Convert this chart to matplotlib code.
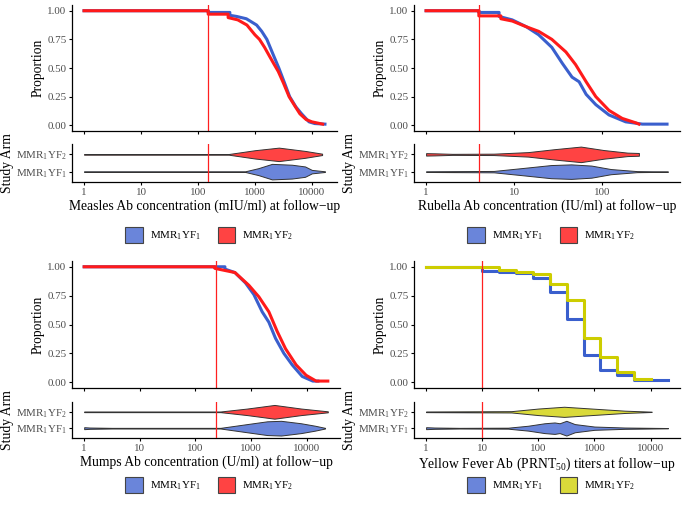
"""Cumulative antibody distributions with violin strips, four vaccine antigens."""

import matplotlib.pyplot as plt
import numpy as np
from matplotlib.patches import Patch

plt.rcParams.update(
    {
        "font.family": "Liberation Serif",
        "mathtext.fontset": "custom",
        "mathtext.rm": "Liberation Serif",
        "mathtext.it": "Liberation Serif:italic",
        "figure.facecolor": "white",
        "savefig.facecolor": "white",
    }
)

BLUE_LINE = "#3A5FCD"
RED_LINE = "#FF1A1A"
YELLOW_LINE = "#CDCD00"
BLUE_FILL = "#6A85DA"
RED_FILL = "#FF4343"
YELLOW_FILL = "#DADA3A"
CUT_COLOR = "#FF2020"
ARMS = [r"MMR$_1$YF$_1$", r"MMR$_1$YF$_2$"]

# --- curves: log10(concentration) and proportion above it -------------------
measles_yf1_logx = [0, 2.18, 2.18, 2.56, 2.56, 2.68, 2.85, 3.03, 3.12, 3.21, 3.31, 3.42, 3.52,
                    3.61, 3.72, 3.82, 3.95, 4.05, 4.23]
measles_yf1_prop = [1.0, 1.0, 0.985, 0.985, 0.96, 0.95, 0.93, 0.875, 0.82, 0.75, 0.63, 0.50, 0.37,
                    0.25, 0.16, 0.10, 0.03, 0.015, 0.01]
measles_yf2_logx = [0, 2.18, 2.18, 2.53, 2.53, 2.70, 2.86, 3.00, 3.08, 3.17, 3.26, 3.34, 3.41,
                    3.50, 3.60, 3.70, 3.79, 3.90, 4.00, 4.19]
measles_yf2_prop = [1.0, 1.0, 0.97, 0.97, 0.94, 0.92, 0.875, 0.79, 0.75, 0.68, 0.60, 0.53, 0.47,
                    0.37, 0.25, 0.17, 0.10, 0.05, 0.03, 0.01]

rubella_yf1_logx = [0, 0.60, 0.60, 0.83, 0.83, 0.98, 1.14, 1.28, 1.43, 1.55, 1.66, 1.74, 1.82,
                    1.93, 2.08, 2.27, 2.46, 2.74]
rubella_yf1_prop = [1.0, 1.0, 0.985, 0.985, 0.95, 0.92, 0.86, 0.79, 0.68, 0.54, 0.42, 0.38, 0.27,
                    0.18, 0.09, 0.03, 0.01, 0.01]
rubella_yf2_logx = [0, 0.60, 0.60, 0.85, 0.85, 0.98, 1.14, 1.28, 1.43, 1.59, 1.70, 1.82, 1.93,
                    2.08, 2.23, 2.39, 2.42]
rubella_yf2_prop = [1.0, 1.0, 0.955, 0.955, 0.93, 0.91, 0.86, 0.82, 0.75, 0.64, 0.53, 0.38, 0.25,
                    0.13, 0.06, 0.02, 0.01]

mumps_yf1_logx = [0, 2.53, 2.53, 2.71, 2.90, 3.05, 3.20, 3.32, 3.44, 3.59, 3.74, 3.92, 4.11, 4.20]
mumps_yf1_prop = [1.0, 1.0, 0.98, 0.95, 0.86, 0.76, 0.61, 0.52, 0.38, 0.25, 0.15, 0.05, 0.01, 0.01]
mumps_yf2_logx = [0, 2.35, 2.35, 2.71, 2.96, 3.14, 3.32, 3.47, 3.62, 3.81, 3.99, 4.17, 4.38]
mumps_yf2_prop = [1.0, 1.0, 0.986, 0.95, 0.84, 0.74, 0.61, 0.44, 0.29, 0.15, 0.06, 0.01, 0.01]

yf_titers = [1, 10, 20, 40, 80, 160, 320, 640, 1280, 2560, 5120, 10240, 20480]
yf_yf1_prop = [1.0, 0.965, 0.955, 0.95, 0.905, 0.78, 0.545, 0.235, 0.11, 0.06, 0.015, 0.015, 0.015]
yf_yf2_prop = [1.0, 1.0, 0.975, 0.955, 0.935, 0.855, 0.71, 0.38, 0.215, 0.09, 0.025, 0.025]

# --- violin outlines: log10(concentration) and half width --------------------
measles_v1_logx = [0, 2.83, 3.06, 3.30, 3.65, 3.88, 4.00, 4.23]
measles_v1_half = [0.02, 0.02, 0.20, 0.45, 0.40, 0.30, 0.10, 0.02]
measles_v2_logx = [0, 2.54, 3.00, 3.42, 3.88, 4.18]
measles_v2_half = [0.02, 0.02, 0.24, 0.39, 0.20, 0.04]

rubella_v1_logx = [0, 0.77, 1.08, 1.42, 1.65, 1.88, 2.10, 2.40, 2.75]
rubella_v1_half = [0.02, 0.04, 0.20, 0.38, 0.42, 0.35, 0.15, 0.03, 0.01]
rubella_v2_logx = [0, 0.10, 0.30, 0.77, 1.16, 1.46, 1.76, 2.02, 2.29, 2.42]
rubella_v2_half = [0.07, 0.06, 0.03, 0.04, 0.13, 0.30, 0.45, 0.25, 0.10, 0.08]

mumps_v1_logx = [0, 0.10, 0.50, 2.45, 2.93, 3.29, 3.54, 3.90, 4.15, 4.33]
mumps_v1_half = [0.06, 0.04, 0.02, 0.02, 0.25, 0.42, 0.45, 0.30, 0.15, 0.02]
mumps_v2_logx = [0, 2.45, 2.93, 3.42, 3.90, 4.38]
mumps_v2_half = [0.02, 0.02, 0.20, 0.42, 0.20, 0.03]

yf_v1_logx = [0, 0.15, 0.60, 1.46, 1.82, 2.11, 2.29, 2.38, 2.50, 2.65, 3.00, 3.54, 4.31]
yf_v1_half = [0.06, 0.04, 0.02, 0.03, 0.15, 0.30, 0.35, 0.30, 0.45, 0.25, 0.10, 0.04, 0.01]
yf_v2_logx = [0, 1.52, 2.00, 2.46, 2.95, 3.54, 4.02]
yf_v2_half = [0.02, 0.04, 0.20, 0.31, 0.20, 0.07, 0.01]

W, H = 685, 508


def _rect(left, top, right, bottom):
    return [left / W, 1 - bottom / H, (right - left) / W, (bottom - top) / H]


def _style(ax, ticks, lo, hi):
    ax.set_xscale("log")
    ax.set_xlim(10**lo, 10**hi)
    ax.set_xticks(ticks)
    ax.minorticks_off()
    for side in ("top", "right"):
        ax.spines[side].set_visible(False)
    for side in ("left", "bottom"):
        ax.spines[side].set_linewidth(0.9)
    ax.tick_params(length=2.5, width=0.8, labelsize=7.9, labelcolor="#4D4D4D", pad=1.5)


def panel(box_main, box_violin, curves, violins, cutoff, ticks, xlabel, fill2, legend_xy):
    all_logx = [v for lx, _, _ in violins for v in lx]
    span = max(all_logx) - min(all_logx)
    lo, hi = min(all_logx) - 0.05 * span, max(all_logx) + 0.05 * span

    ax = fig.add_axes(_rect(*box_main))
    for x, y, color, step in curves:
        if step:
            ax.step(x, y, where="post", color=color, lw=2.2)
        else:
            ax.plot(x, y, color=color, lw=2.2)
    ax.axvline(cutoff, color=CUT_COLOR, lw=0.9)
    ax.set_ylim(-0.05, 1.05)
    ax.set_yticks([0, 0.25, 0.5, 0.75, 1.0])
    ax.set_yticklabels(["0.00", "0.25", "0.50", "0.75", "1.00"])
    _style(ax, ticks, lo, hi)
    ax.tick_params(axis="x", labelbottom=False)
    ax.set_ylabel("Proportion", fontsize=9.8, labelpad=2)

    av = fig.add_axes(_rect(*box_violin))
    for pos, (lx, half, color) in zip([1, 2], violins):
        xs = 10 ** np.asarray(lx)
        hw = np.asarray(half)
        av.fill_between(xs, pos - hw, pos + hw, facecolor=color, edgecolor="#333333", lw=0.7, zorder=2)
    av.axvline(cutoff, color=CUT_COLOR, lw=0.9, zorder=3)
    av.set_ylim(0.4, 2.6)
    av.set_yticks([1, 2])
    av.set_yticklabels(ARMS)
    _style(av, ticks, lo, hi)
    av.set_xticklabels([f"{t:g}" for t in ticks])
    av.set_ylabel("Study Arm", fontsize=9.8, labelpad=1)
    av.set_xlabel(xlabel, fontsize=9.8, labelpad=2)

    handles = [
        Patch(facecolor=BLUE_FILL, edgecolor="#444444", lw=0.8, label=ARMS[0]),
        Patch(facecolor=fill2, edgecolor="#444444", lw=0.8, label=ARMS[1]),
    ]
    fig.legend(
        handles=handles,
        loc="center",
        bbox_to_anchor=(legend_xy[0] / W, 1 - legend_xy[1] / H),
        ncol=2,
        frameon=False,
        fontsize=7.9,
        handlelength=1.6,
        handleheight=1.8,
        handletextpad=0.6,
        columnspacing=1.6,
    )


fig = plt.figure(figsize=(6.85, 5.08), dpi=100)

panel(
    (72, 5, 337, 131), (72, 144, 337, 182),
    [
        (10 ** np.asarray(measles_yf1_logx), measles_yf1_prop, BLUE_LINE, False),
        (10 ** np.asarray(measles_yf2_logx), measles_yf2_prop, RED_LINE, False),
    ],
    [(measles_v1_logx, measles_v1_half, BLUE_FILL), (measles_v2_logx, measles_v2_half, RED_FILL)],
    150, [1, 10, 100, 1000, 10000],
    "Measles Ab concentration (mIU/ml) at follow\u2212up", RED_FILL, (209, 235),
)

panel(
    (414, 5, 680, 131), (414, 144, 680, 182),
    [
        (10 ** np.asarray(rubella_yf1_logx), rubella_yf1_prop, BLUE_LINE, False),
        (10 ** np.asarray(rubella_yf2_logx), rubella_yf2_prop, RED_LINE, False),
    ],
    [(rubella_v1_logx, rubella_v1_half, BLUE_FILL), (rubella_v2_logx, rubella_v2_half, RED_FILL)],
    4, [1, 10, 100],
    "Rubella Ab concentration (IU/ml) at follow\u2212up", RED_FILL, (551, 235),
)

panel(
    (72, 261, 340, 388), (72, 402, 340, 438),
    [
        (10 ** np.asarray(mumps_yf1_logx), mumps_yf1_prop, BLUE_LINE, False),
        (10 ** np.asarray(mumps_yf2_logx), mumps_yf2_prop, RED_LINE, False),
    ],
    [(mumps_v1_logx, mumps_v1_half, BLUE_FILL), (mumps_v2_logx, mumps_v2_half, RED_FILL)],
    230, [1, 10, 100, 1000, 10000],
    "Mumps Ab concentration (U/ml) at follow\u2212up", RED_FILL, (209, 485),
)

panel(
    (414, 261, 680, 388), (414, 402, 680, 438),
    [
        (yf_titers, yf_yf1_prop, BLUE_LINE, True),
        (yf_titers[: len(yf_yf2_prop)], yf_yf2_prop, YELLOW_LINE, True),
    ],
    [(yf_v1_logx, yf_v1_half, BLUE_FILL), (yf_v2_logx, yf_v2_half, YELLOW_FILL)],
    10, [1, 10, 100, 1000, 10000],
    r"Yellow Fever Ab (PRNT$_{50}$) titers at follow$-$up", YELLOW_FILL, (551, 485),
)

fig.savefig("out.png", dpi=100)
